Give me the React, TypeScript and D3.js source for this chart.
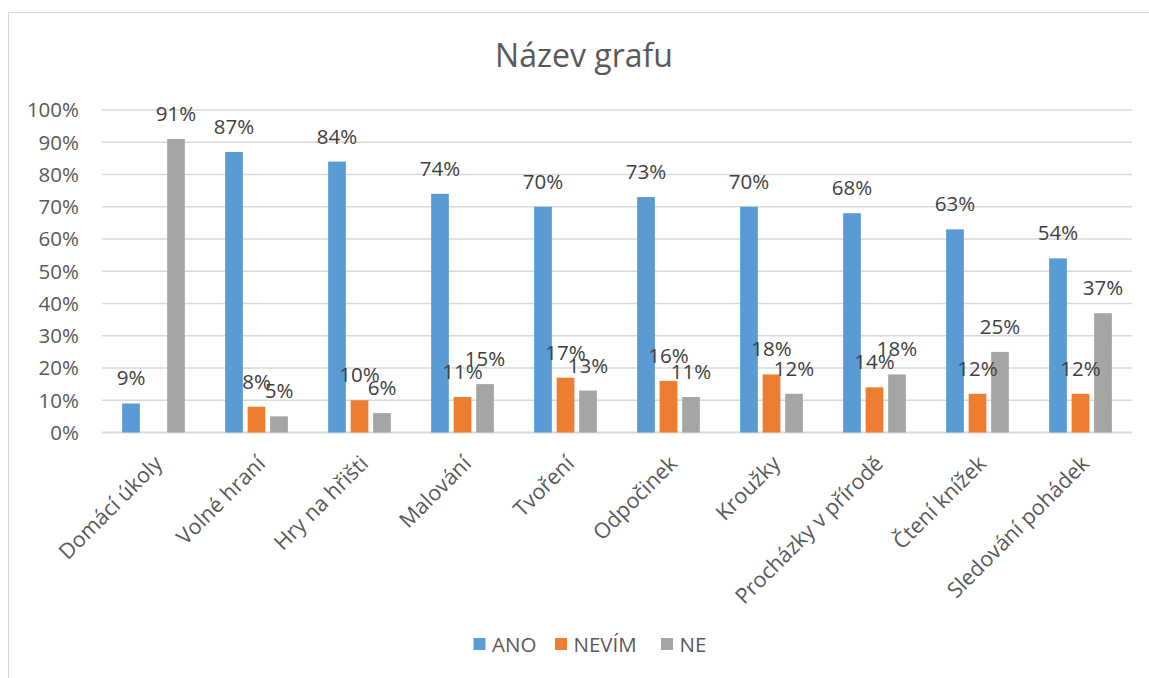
import React from 'react';
import * as d3 from 'd3';

const categories = [
  'Domácí úkoly',
  'Volné hraní',
  'Hry na hřišti',
  'Malování',
  'Tvoření',
  'Odpočinek',
  'Kroužky',
  'Procházky v přírodě',
  'Čtení knížek',
  'Sledování pohádek',
];

const seriesNames = ['ANO', 'NEVÍM', 'NE'];
const ano = [9, 87, 84, 74, 70, 73, 70, 68, 63, 54];
const nevim = [null, 8, 10, 11, 17, 16, 18, 14, 12, 12];
const ne = [91, 5, 6, 15, 13, 11, 12, 18, 25, 37];
const yTicks = [0, 10, 20, 30, 40, 50, 60, 70, 80, 90, 100];

const seriesValues: (number | null)[][] = [ano, nevim, ne];
const colors = ['#5B9BD5', '#ED7D31', '#A5A5A5'];

const W = 1149;
const H = 678;
const FONT = '"Open Sans", "Noto Sans", sans-serif';

export default function App() {
  const plot = { left: 102, right: 1132, top: 110, bottom: 432.5 };

  const x0 = d3.scaleBand<string>().domain(categories).range([plot.left, plot.right]).padding(0);
  const groupW = x0.bandwidth() * 0.609;
  const groupOff = (x0.bandwidth() - groupW) / 2;
  const x1 = d3
    .scaleBand<string>()
    .domain(seriesNames)
    .range([groupOff, groupOff + groupW])
    .paddingInner(0.213)
    .paddingOuter(0);
  const y = d3.scaleLinear().domain([0, 100]).range([plot.bottom, plot.top]);

  // legend layout
  const legendY = 645;
  const legendItems = [
    { name: 'ANO', x: 473.5 },
    { name: 'NEVÍM', x: 555 },
    { name: 'NE', x: 661 },
  ];

  return (
    <svg
      width={W}
      height={H}
      style={{ position: 'absolute', left: 0, top: 0, background: '#fff' }}
      fontFamily={FONT}
    >
      <rect x={8.5} y={12.5} width={1160} height={700} fill="#fff" stroke="#d9d9d9" strokeWidth={1} />

      <text x={584} y={67} textAnchor="middle" fontSize={32} fill="#595959">
        Název grafu
      </text>

      {/* gridlines + y labels */}
      {yTicks.map((t) => (
        <g key={t}>
          <line
            x1={plot.left}
            x2={plot.right}
            y1={y(t)}
            y2={y(t)}
            stroke="#d9d9d9"
            strokeWidth={t === 0 ? 1.8 : 1.4}
          />
          <text x={79} y={y(t) + 7.3} textAnchor="end" fontSize={20.5} fill="#595959">
            {t}%
          </text>
        </g>
      ))}

      {/* bars */}
      {categories.map((c, i) => (
        <g key={c} transform={`translate(${x0(c)},0)`}>
          {seriesNames.map((s, j) => {
            const v = seriesValues[j][i];
            if (v === null) return null;
            return (
              <rect
                key={s}
                x={x1(s)}
                y={y(v)}
                width={x1.bandwidth()}
                height={y(0) - y(v)}
                fill={colors[j]}
              />
            );
          })}
        </g>
      ))}

      {/* data labels */}
      {categories.map((c, i) => (
        <g key={c + '-lbl'} transform={`translate(${x0(c)},0)`}>
          {seriesNames.map((s, j) => {
            const v = seriesValues[j][i];
            if (v === null) return null;
            return (
              <text
                key={s}
                x={(x1(s) as number) + x1.bandwidth() / 2}
                y={y(v) - 18}
                textAnchor="middle"
                fontSize={20.5}
                fill="#404040"
              >
                {v}%
              </text>
            );
          })}
        </g>
      ))}

      {/* category labels */}
      {categories.map((c) => {
        const cx = (x0(c) as number) + x0.bandwidth() / 2;
        return (
          <text
            key={c + '-cat'}
            transform={`translate(${cx + 10},465) rotate(-45)`}
            textAnchor="end"
            fontSize={21.5}
            fill="#595959"
          >
            {c}
          </text>
        );
      })}

      {/* legend */}
      {legendItems.map((d, i) => (
        <g key={d.name}>
          <rect x={d.x} y={legendY - 7} width={12} height={12} fill={colors[i]} />
          <text x={d.x + 18.5} y={legendY + 7} fontSize={20.5} fill="#595959">
            {d.name}
          </text>
        </g>
      ))}
    </svg>
  );
}
